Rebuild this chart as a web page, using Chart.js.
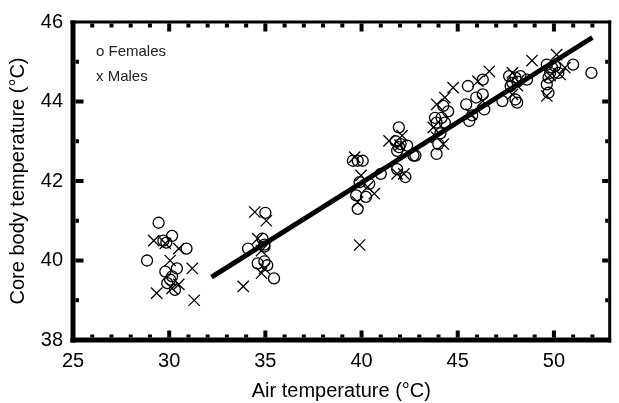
<!DOCTYPE html>
<html>
<head>
<meta charset="utf-8">
<script src="https://cdn.jsdelivr.net/npm/chart.js@4.4.0/dist/chart.umd.min.js"></script>
<style>
  html, body { margin: 0; padding: 0; background: #fff; }
</style>
</head>
<body>
<canvas id="chart" width="619" height="403"></canvas>
<script>
  // air temperature (x) and core body temperature (y)
  const femaleAir = [
    28.85, 29.45, 29.7, 30.15, 30.9, 29.8, 30.4, 30.15, 29.9, 30.3, 30.05, 29.85,
    35.0, 34.85, 34.95, 34.1, 34.6, 34.95, 35.1, 35.45, 34.95,
    39.55, 39.8, 40.06, 39.9, 40.4, 39.72, 40.23, 39.8, 41.0,
    41.94, 41.77, 42.03, 42.37, 41.85, 42.7, 41.85, 42.28, 42.8, 41.95,
    44.25, 43.82, 44.16, 43.9, 44.33, 43.99, 43.9, 44.1, 44.5,
    45.53, 45.44, 45.96, 46.3, 46.38, 45.6, 46.3, 45.75,
    47.67, 48.0, 48.26, 48.6, 47.84, 47.75, 47.32, 48.0, 48.09, 48.1,
    49.63, 50.06, 49.8, 50.23, 49.72, 51.0, 51.95, 49.63, 49.72, 49.9
  ];
  const femaleCore = [
    40.0, 40.95, 40.5, 40.62, 40.3, 39.72, 39.8, 39.6, 39.43, 39.26, 39.52, 40.45,
    41.2, 40.55, 40.4, 40.3, 39.93, 39.98, 39.88, 39.55, 40.35,
    42.51, 42.51, 42.51, 41.97, 41.93, 41.64, 41.6, 41.3, 42.18,
    43.35, 43.0, 42.93, 42.89, 42.76, 42.64, 42.3, 42.1, 42.64, 42.85,
    43.89, 43.59, 43.59, 43.47, 43.47, 42.93, 42.68, 43.2, 43.75,
    44.39, 43.93, 44.1, 44.18, 43.8, 43.51, 44.55, 43.65,
    44.64, 44.6, 44.64, 44.55, 44.47, 44.39, 44.01, 44.05, 43.97, 44.5,
    44.93, 44.89, 44.72, 44.72, 44.6, 44.93, 44.72, 44.43, 44.22, 44.85
  ];
  const maleAir = [
    29.2, 29.8, 30.5, 30.05, 31.2, 29.35, 30.15, 30.5, 31.3,
    34.45, 35.05, 34.6, 34.8, 34.95, 34.8, 33.85,
    39.64, 39.97, 40.32, 40.66, 39.8, 39.9,
    41.43, 42.11, 41.85, 42.2, 42.0,
    44.76, 44.33, 43.91, 43.73, 43.9, 44.25,
    46.64, 46.05, 46.3, 45.7,
    48.86, 47.84, 47.84, 48.1,
    50.14, 50.32, 50.57, 49.63, 49.8
  ];
  const maleCore = [
    40.5, 40.43, 40.3, 40.0, 39.8, 39.18, 39.3, 39.4, 39.0,
    41.22, 41.0, 40.55, 40.25, 39.8, 39.68, 39.35,
    42.6, 42.14, 41.85, 41.68, 41.47, 40.39,
    43.01, 43.14, 42.18, 42.18, 42.9,
    44.35, 44.1, 43.93, 43.35, 43.1, 42.93,
    44.76, 44.51, 44.01, 43.68,
    45.03, 44.72, 44.18, 44.4,
    45.18, 44.68, 44.85, 44.14, 44.65
  ];
  // regression line end points
  const fitAir = [32.2, 52.0];
  const fitCore = [39.58, 45.61];

  const xMin = 25, xMax = 52.9, xStep = 5;
  const yMin = 38, yMax = 46, yStep = 2;
  const legendLines = ['o Females', 'x Males'];

  const toPoints = (xs, ys) => xs.map((x, i) => ({ x: x, y: ys[i] }));
  const FONT = 'Liberation Sans, Arial, Helvetica, sans-serif';

  // heavy frame with inward ticks, plus the text legend
  const framePlugin = {
    id: 'frame',
    afterDraw(chart) {
      const ctx = chart.ctx;
      const a = chart.chartArea;
      const xs = chart.scales.x, ys = chart.scales.y;
      ctx.save();
      ctx.fillStyle = '#000';
      ctx.fillRect(a.left - 2.5, a.top - 1.5, 5, a.bottom - a.top + 4);
      ctx.fillRect(a.left - 2.5, a.bottom - 2.5, a.right - a.left + 4, 5);
      ctx.fillRect(a.left - 2.5, a.top - 1.5, a.right - a.left + 4, 3);
      ctx.fillRect(a.right - 1.5, a.top - 1.5, 3, a.bottom - a.top + 4);

      for (let v = Math.ceil(xMin); v <= Math.floor(xMax); v++) {
        if (v === xMin) continue;
        const px = xs.getPixelForValue(v);
        const major = v % xStep === 0;
        const len = major ? 7 : 3;
        ctx.fillRect(px - 2, a.bottom - 2.5 - len, 4, len);
        ctx.fillRect(px - 2, a.top + 1.5, 4, len + 1);
      }
      for (let v = yMin + 1; v < yMax; v++) {
        const py = ys.getPixelForValue(v);
        const major = v % yStep === 0;
        const len = major ? 8 : 3.5;
        ctx.fillRect(a.left + 2.5, py - 2, len, 4);
        ctx.fillRect(a.right - 1.5 - (major ? 6 : 3), py - 2, major ? 6 : 3, 4);
      }

      ctx.fillStyle = '#222';
      ctx.font = '15px ' + FONT;
      ctx.textBaseline = 'alphabetic';
      ctx.textAlign = 'left';
      ctx.fillText(legendLines[0], 96, 55.5);
      ctx.fillText(legendLines[1], 96, 81);
      ctx.restore();
    }
  };

  new Chart(document.getElementById('chart'), {
    type: 'scatter',
    data: {
      datasets: [{
        label: 'Fit',
        data: toPoints(fitAir, fitCore),
        showLine: true,
        borderColor: '#000',
        borderWidth: 5,
        pointRadius: 0,
        order: 0
      }, {
        label: 'Females',
        data: toPoints(femaleAir, femaleCore),
        pointStyle: 'circle',
        pointRadius: 5.5,
        borderWidth: 1.3,
        borderColor: '#000',
        backgroundColor: 'rgba(0,0,0,0)',
        order: 1
      }, {
        label: 'Males',
        data: toPoints(maleAir, maleCore),
        pointStyle: 'crossRot',
        pointRadius: 8,
        borderWidth: 1.3,
        borderColor: '#000',
        backgroundColor: 'rgba(0,0,0,0)',
        order: 2
      }]
    },
    options: {
      responsive: false,
      animation: false,
      devicePixelRatio: 1,
      events: [],
      layout: { padding: { top: 19, right: 1.5, left: 0, bottom: 0 } },
      plugins: { legend: { display: false }, tooltip: { enabled: false } },
      scales: {
        x: {
          type: 'linear',
          min: xMin,
          max: xMax,
          grid: { display: false, drawTicks: false },
          border: { display: false },
          ticks: {
            stepSize: xStep,
            includeBounds: false,
            color: '#000',
            padding: 9,
            maxRotation: 0,
            font: { family: FONT, size: 20 }
          },
          title: {
            display: true,
            text: 'Air temperature (°C)',
            color: '#000',
            padding: { top: 0, bottom: 0 },
            font: { family: FONT, size: 20 }
          },
          afterFit: s => { s.height = 63; }
        },
        y: {
          min: yMin,
          max: yMax,
          grid: { display: false, drawTicks: false },
          border: { display: false },
          ticks: {
            stepSize: yStep,
            color: '#000',
            padding: 10,
            font: { family: FONT, size: 20 }
          },
          title: {
            display: true,
            text: 'Core body temperature (°C)',
            color: '#000',
            padding: { top: 6.5, bottom: 0 },
            font: { family: FONT, size: 20 }
          },
          afterFit: s => { s.width = 73; }
        }
      }
    },
    plugins: [framePlugin]
  });
</script>
</body>
</html>
